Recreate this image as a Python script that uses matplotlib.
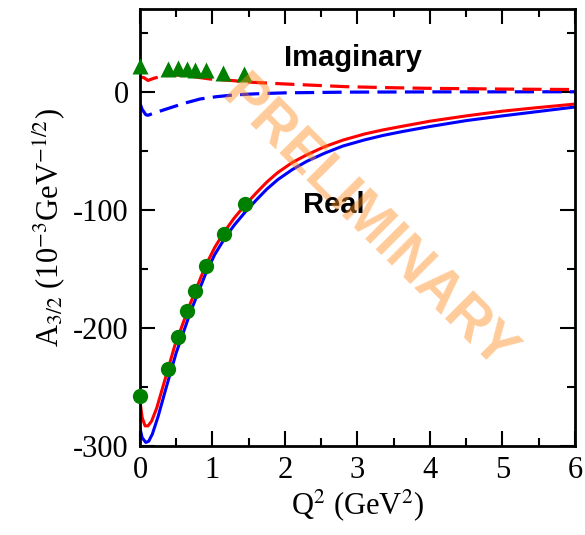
import matplotlib

matplotlib.use("Agg")
import matplotlib.pyplot as plt
from matplotlib.ticker import MultipleLocator

plt.rcParams["font.family"] = ["Liberation Serif", "DejaVu Serif"]
plt.rcParams["mathtext.fontset"] = "stix"
plt.rcParams["axes.unicode_minus"] = False

# Data points (green): real and imaginary parts
real_q2 = [0.0, 0.39, 0.53, 0.65, 0.76, 0.91, 1.16, 1.45]
real_a = [-258, -234.5, -207.6, -185.6, -169, -148, -120.3, -95.5]
imag_q2 = [0.0, 0.39, 0.52, 0.65, 0.76, 0.91, 1.14, 1.43]
imag_a = [22, 19.5, 20, 19.5, 18, 18, 16, 15]

# Model curves, real part
red_re_q2 = [0.0, 0.03, 0.07, 0.11, 0.16, 0.23, 0.32, 0.48, 0.69, 0.9, 1.03, 1.17,
             1.3, 1.45, 1.6, 1.75, 1.9, 2.1, 2.3, 2.55, 2.8, 3.1, 3.35, 3.6, 4.0, 4.5,
             5.0, 5.4, 6.0]
red_re = [-262, -276, -283, -283, -279, -268, -249, -215, -180, -148, -132, -118,
          -107, -96, -86, -76.5, -68.5, -60, -53.5, -46.5, -41, -35.8, -32.4, -29.5, -25,
          -20.5, -16.5, -14, -10.5]
blue_re_q2 = [0.0, 0.03, 0.08, 0.12, 0.17, 0.25, 0.35, 0.5, 0.7, 0.9, 1.03, 1.17,
              1.3, 1.45, 1.6, 1.75, 1.9, 2.1, 2.3, 2.55, 2.8, 3.1, 3.35, 3.6, 4.0, 4.5,
              5.0, 5.4, 6.0]
blue_re = [-285, -293, -297, -296, -290, -275, -253, -221, -186, -155, -138, -124,
           -113, -102, -92, -82.5, -74.5, -66, -59, -52, -46, -40.8, -37.1, -34, -29.5,
           -24.5, -20.5, -17.5, -13]

# Model curves, imaginary part
red_im_q2 = [0.0, 0.05, 0.11, 0.2, 0.28, 0.44, 0.64, 0.97, 1.29, 1.56, 2.0, 2.85,
             3.5, 4.0, 5.0, 6.0]
red_im = [12, 12, 9.5, 11.5, 12.7, 14.4, 13.5, 10.7, 9.3, 7.9, 6.5, 4.2,
          3.3, 2.8, 2.2, 1.8]
blue_im_q2 = [0.0, 0.03, 0.08, 0.11, 0.2, 0.37, 0.6, 0.83, 1.05, 1.29, 1.6, 2.0,
              2.85, 4.0, 6.0]
blue_im = [-10, -15, -19.5, -20, -18, -14.6, -10, -6.2, -4.3, -2.8, -1.8, -1.0,
           -0.4, -0.2, -0.1]

fig = plt.figure(figsize=(5.85, 5.35), dpi=100)
ax = fig.add_axes([0.2393, 0.1664, 0.7436, 0.8168])

ax.plot(blue_re_q2, blue_re, color="blue", lw=2.2)
ax.plot(red_re_q2, red_re, color="red", lw=2.2)
ax.plot(blue_im_q2, blue_im, color="blue", lw=2.3, dashes=(6, 2.6))
ax.plot(red_im_q2, red_im, color="red", lw=2.3, dashes=(6, 2.6))

ax.plot(real_q2, real_a, "o", color="#008000", ms=11, mec="none", clip_on=False, zorder=5)
ax.plot(imag_q2, imag_a, "^", color="#008000", ms=11, mec="none", clip_on=False, zorder=5)

ax.text(2.94, 22, "Imaginary", family="Liberation Sans", weight="bold", fontsize=21,
        ha="center", va="baseline")
ax.text(2.68, -103, "Real", family="Liberation Sans", weight="bold", fontsize=21,
        ha="center", va="baseline")

# watermark
ax.text(3.14, -112, "PRELIMINARY", family="Liberation Sans", weight="bold", fontsize=41,
        color=(1.0, 0.55, 0.12), alpha=0.45, rotation=-45, rotation_mode="anchor",
        ha="center", va="center", zorder=10)

ax.set_xlim(0, 6)
ax.set_ylim(-300, 70)
ax.xaxis.set_major_locator(MultipleLocator(1))
ax.xaxis.set_minor_locator(MultipleLocator(0.5))
ax.yaxis.set_major_locator(MultipleLocator(100))
ax.yaxis.set_minor_locator(MultipleLocator(50))
ax.tick_params(which="both", direction="in", top=True, right=True, width=1.5,
               labelsize=22)
ax.tick_params(which="major", length=11)
ax.tick_params(which="minor", length=6)
ax.tick_params(axis="x", pad=7)
ax.tick_params(axis="y", pad=8)
for sp in ax.spines.values():
    sp.set_linewidth(2)

ax.set_xlabel("Q$^2$ (GeV$^2$)", fontsize=22, labelpad=2)
ax.set_ylabel("A$_{3/2}$ (10$^{-3}$GeV$^{-1/2}$)", fontsize=22, labelpad=4)

fig.savefig("out.png", dpi=100)
